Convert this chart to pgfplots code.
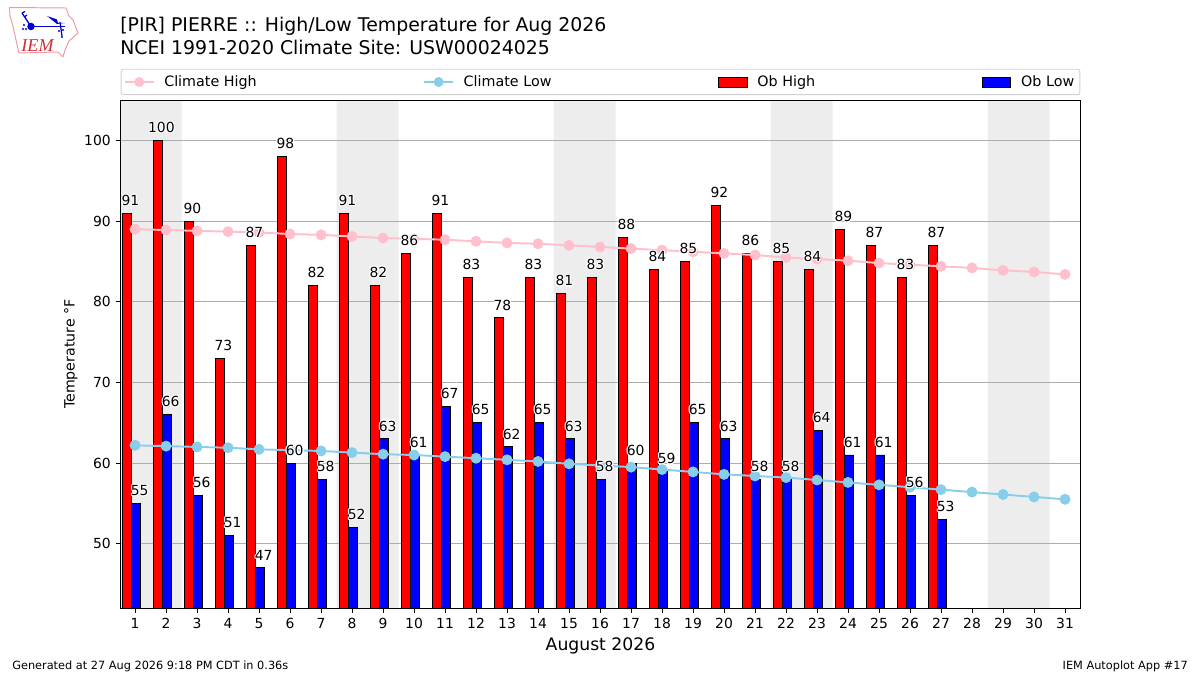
\documentclass[border=0pt]{standalone}
\usepackage{fontspec}
\usepackage{pgfplots}
\usepackage{pgfplotstable}
\pgfplotsset{compat=1.18}
\setmainfont{DejaVu Sans}
\newfontfamily\logofont{Liberation Serif}

\definecolor{climhi}{HTML}{FFC0CB}
\definecolor{climlo}{HTML}{87CEEB}
\definecolor{weekend}{HTML}{EDEDED}
\definecolor{gridgray}{HTML}{ADADAD}
\definecolor{iemred}{HTML}{D62839}
\definecolor{iemline}{HTML}{EE9A9A}

% observed highs and lows
\pgfplotstableread{
d hi lo
1 91 55
2 100 66
3 90 56
4 73 51
5 87 47
6 98 60
7 82 58
8 91 52
9 82 63
10 86 61
11 91 67
12 83 65
13 78 62
14 83 65
15 81 63
16 83 58
17 88 60
18 84 59
19 85 65
20 92 63
21 86 58
22 85 58
23 84 64
24 89 61
25 87 61
26 83 56
27 87 53
}\obs

% climatology
\pgfplotstableread{
d chi clo
1 89.0 62.2
2 88.9 62.1
3 88.8 62.0
4 88.7 61.9
5 88.6 61.7
6 88.4 61.6
7 88.3 61.5
8 88.1 61.3
9 87.9 61.1
10 87.8 61.0
11 87.7 60.8
12 87.5 60.6
13 87.3 60.4
14 87.2 60.2
15 87.0 59.9
16 86.8 59.7
17 86.6 59.5
18 86.4 59.2
19 86.2 58.9
20 86.0 58.6
21 85.8 58.4
22 85.5 58.2
23 85.3 57.9
24 85.1 57.6
25 84.8 57.3
26 84.6 57.0
27 84.4 56.7
28 84.2 56.4
29 83.9 56.1
30 83.7 55.8
31 83.4 55.5
}\clim

% white outline behind the value labels
\newcommand\halocopy[3]{\rlap{\hspace*{#1}\raisebox{#2}{\textcolor{white}{#3}}}}
\newcommand\halo[1]{%
  \halocopy{.8pt}{0pt}{#1}\halocopy{-.8pt}{0pt}{#1}\halocopy{0pt}{.8pt}{#1}\halocopy{0pt}{-.8pt}{#1}%
  \halocopy{.6pt}{.6pt}{#1}\halocopy{-.6pt}{.6pt}{#1}\halocopy{.6pt}{-.6pt}{#1}\halocopy{-.6pt}{-.6pt}{#1}%
  #1}

\pgfplotsset{
  layers/chart/.define layer set={axis background,axis grid,pre main,main,axis ticks,axis lines,axis tick labels,axis descriptions,axis foreground}{},
  obbar/.style={ybar, bar width=0.3, draw=black, line width=.7pt, forget plot},
  climline/.style={line width=1.4pt, mark=*, mark size=3.2pt, mark options={draw=none, fill=#1}, color=#1, forget plot},
  weekendband/.style={fill=weekend, draw=none, forget plot, on layer=axis background},
  vals/.style={draw=none, mark=none, forget plot, point meta=explicit symbolic,
    nodes near coords={\halo{\pgfplotspointmeta}},
    every node near coord/.style={anchor=south, inner sep=0pt, yshift=4.5pt, font=\fontsize{10}{12}\selectfont}},
}

\begin{document}
\begin{tikzpicture}
\begin{scope}[shift={(-86.76pt,437.9pt)},x=.72pt,y=-.72pt]
  \path[use as bounding box] (0,0) rectangle (1200,675);
\end{scope}
\begin{axis}[
    at={(0,0)}, anchor=south west,
    set layers=chart,
    scale only axis,
    width=691.2pt, height=365.76pt,
    xmin=0.53, xmax=31.5,
    ymin=42, ymax=105,
    xtick={1,...,31},
    ytick={50,60,...,100},
    tick align=outside,
    tick pos=left,
    major tick length=3.5pt,
    every tick/.style={black, line width=.6pt},
    axis line style={line width=.8pt},
    ymajorgrids,
    grid style={gridgray, line width=.7pt},
    ticklabel style={font=\fontsize{10}{12}\selectfont},
    /pgf/number format/assume math mode=true,
    xlabel={August 2026},
    xlabel style={font=\fontsize{12.4}{14}\selectfont, at={(axis description cs:0.5,0)}, anchor=base, yshift=-30.6pt},
    ylabel={Temperature °F},
    ylabel style={font=\fontsize{10.2}{12}\selectfont, at={(axis description cs:0,0.5)}, anchor=base, yshift=33pt},
    legend columns=4,
    legend cell align=left,
    legend style={
      at={(axis description cs:0.5,1)}, anchor=south, yshift=3.6pt,
      draw=black!18, line width=.7pt, rounded corners=1.5pt,
      font=\fontsize{10.3}{12}\selectfont,
      inner xsep=2pt, inner ysep=2.5pt,
      /tikz/every odd column/.append style={column sep=5pt},
      /tikz/every even column/.append style={column sep=118pt},
    },
]
% weekend shading
\addplot[weekendband] coordinates {(0.53,42) (0.53,105) (2.5,105) (2.5,42)} \closedcycle;
\addplot[weekendband] coordinates {(7.5,42) (7.5,105) (9.5,105) (9.5,42)} \closedcycle;
\addplot[weekendband] coordinates {(14.5,42) (14.5,105) (16.5,105) (16.5,42)} \closedcycle;
\addplot[weekendband] coordinates {(21.5,42) (21.5,105) (23.5,105) (23.5,42)} \closedcycle;
\addplot[weekendband] coordinates {(28.5,42) (28.5,105) (30.5,105) (30.5,42)} \closedcycle;

% legend in the order of the reference
\addlegendimage{legend image code/.code={
  \draw[climhi, line width=1.4pt, sharp corners] (0pt,0pt) -- (20.6pt,0pt);
  \fill[climhi] (10.3pt,0pt) circle (3.2pt);}}
\addlegendentry{Climate High}
\addlegendimage{legend image code/.code={
  \draw[climlo, line width=1.4pt, sharp corners] (0pt,0pt) -- (20.6pt,0pt);
  \fill[climlo] (10.3pt,0pt) circle (3.2pt);}}
\addlegendentry{Climate Low}
\addlegendimage{legend image code/.code={
  \draw[black, fill=red, line width=.7pt, sharp corners] (0pt,-3.6pt) rectangle (20.6pt,3.6pt);}}
\addlegendentry{Ob High}
\addlegendimage{legend image code/.code={
  \draw[black, fill=blue, line width=.7pt, sharp corners] (0pt,-3.6pt) rectangle (20.6pt,3.6pt);}}
\addlegendentry{Ob Low}

% bars
\addplot[obbar, fill=red, bar shift=-0.27] table[x=d, y=hi] {\obs};
\addplot[obbar, fill=blue, bar shift=0.03] table[x=d, y=lo] {\obs};

% climatology lines
\addplot[climline=climhi] table[x=d, y=chi] {\clim};
\addplot[climline=climlo] table[x=d, y=clo] {\clim};

% value labels, above everything else
\addplot[vals] table[x expr=\thisrow{d}-0.15, y=hi, meta=hi] {\obs};
\addplot[vals] table[x expr=\thisrow{d}+0.15, y=lo, meta=lo] {\obs};
\end{axis}

\begin{scope}[shift={(-86.76pt,437.9pt)},x=.72pt,y=-.72pt]
  % titles
  \node[anchor=base west, inner sep=0pt, font=\fontsize{13.6}{16}\selectfont] at (120,31.5) {[PIR] PIERRE :: High/Low Temperature for Aug 2026};
  \node[anchor=base west, inner sep=0pt, font=\fontsize{13.6}{16}\selectfont] at (120,54) {NCEI 1991-2020 Climate Site: USW00024025};
  % footer
  \node[anchor=base west, inner sep=0pt, font=\fontsize{8.15}{10}\selectfont] at (12,669) {Generated at 27 Aug 2026 9:18 PM CDT in 0.36s};
  \node[anchor=base east, inner sep=0pt, font=\fontsize{8.15}{10}\selectfont] at (1188,669) {IEM Autoplot App \#17};
  % logo
  \draw[iemline, line width=.7pt, line join=round]
    (9.5,7.5) -- (66,8) -- (69,16) -- (73,20) -- (78,33) -- (69,41) -- (65,50) -- (63,57) -- (58,52)
    -- (19,53) -- (16,40) -- (13,26) -- (10,16) -- cycle;
  \draw[blue!85!black, line width=1.1pt] (31,26.5) -- (65,26.5);
  \draw[blue!85!black, line width=.9pt] (31,26.5) -- (22,13) (22,13) -- (25,11.5) (24.5,17) -- (27,15);
  \draw[blue!85!black, line width=.9pt] (60,22) -- (62,36);
  \fill[blue!85!black] (31,26.5) circle (2.7pt);
  \fill[blue!85!black] (47,16) -- (57,19.5) -- (58,23) -- (65,23) -- (57,24) -- cycle;
  \fill[blue!85!black] (24,25) circle (.8pt) (23,29) circle (.8pt) (26,29) circle (.8pt);
  \fill[blue!85!black] (59,31) circle (.8pt) (63,30) circle (.8pt) (62,37) circle (.8pt);
  \node[anchor=base, inner sep=0pt, text=iemred, font=\logofont\itshape\fontsize{13}{16}\selectfont] at (37.5,51.5) {IEM};
\end{scope}
\end{tikzpicture}
\end{document}
